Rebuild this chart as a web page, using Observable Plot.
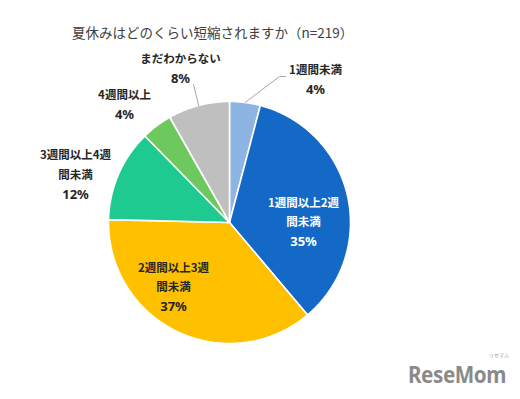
<!DOCTYPE html>
<html>
<head>
<meta charset="utf-8">
<script src="https://cdn.jsdelivr.net/npm/d3@7"></script>
<script src="https://cdn.jsdelivr.net/npm/@observablehq/plot@0.6"></script>
<style>
  html, body { margin: 0; padding: 0; background: #fff; }
  #wrap { position: relative; width: 520px; height: 399px; overflow: hidden; }
  #title { height: 48px; box-sizing: border-box; padding: 26px 0 0 72px; font: 13.5px/1 "Noto Sans CJK JP", sans-serif; color: #404040; white-space: nowrap; }
  #mark { position: absolute; left: 408px; top: 362px; font: bold 24px/1 "Noto Sans", sans-serif; color: #8a8a8a; transform: scaleX(0.86); transform-origin: left top; letter-spacing: -0.5px; }
  #kana { position: absolute; left: 489px; top: 352px; font: 5px/1 "Noto Sans CJK JP", sans-serif; color: #999; }
</style>
</head>
<body>
<div id="wrap">
  <div id="title">夏休みはどのくらい短縮されますか（n=219）</div>
  <div id="chart"></div>
  <div id="mark">ReseMom</div>
  <div id="kana">リセマム</div>
</div>
<script>
// ---- data ----
const categories = ["1週間未満", "1週間以上2週間未満", "2週間以上3週間未満", "3週間以上4週間未満", "4週間以上", "まだわからない"];
const shares = [4.1, 34.7, 36.5, 12.3, 4.1, 8.2];
const nameLines = [["1週間未満"], ["1週間以上2週", "間未満"], ["2週間以上3週", "間未満"], ["3週間以上4週", "間未満"], ["4週間以上"], ["まだわからない"]];
const percentLabels = ["4%", "35%", "37%", "12%", "4%", "8%"];
const colors = ["#8EB4E3", "#1469C7", "#FFC000", "#1FCA91", "#6DC85E", "#BFBFBF"];

// ---- layout (pixels relative to pie centre, y up) ----
const R = 121;
const lineStep = 19.5;
const labelAnchor = [[86, 142], [74, 0], [-56, -65], [-154, 47.5], [-105, 117], [-49, 153]];
const labelColor = ["#262626", "#ffffff", "#262626", "#262626", "#262626", "#262626"];
const leaderPath = { 0: [[50, 146], [56, 146]], 5: [[-36, 138]] };

const arcs = d3.pie().sort(null).startAngle(0).endAngle(2 * Math.PI)(shares);

const slicePts = [];
arcs.forEach((a, i) => {
  const cat = categories[i];
  slicePts.push({ cat, x: 0, y: 0 });
  const n = Math.max(2, Math.ceil((a.endAngle - a.startAngle) / (Math.PI / 180)));
  for (let k = 0; k <= n; k++) {
    const t = a.startAngle + (a.endAngle - a.startAngle) * k / n;
    slicePts.push({ cat, x: R * Math.sin(t), y: R * Math.cos(t) });
  }
  slicePts.push({ cat, x: 0, y: 0 });
});

const nameRows = [], pctRows = [];
categories.forEach((c, i) => {
  const lines = [...nameLines[i], percentLabels[i]];
  const mid = (lines.length - 1) / 2;
  lines.forEach((t, j) => {
    const row = { text: t, x: labelAnchor[i][0], y: labelAnchor[i][1] + (mid - j) * lineStep, color: labelColor[i] };
    (j === lines.length - 1 ? pctRows : nameRows).push(row);
  });
});

const leaders = [];
Object.entries(leaderPath).forEach(([i, pts]) => {
  const a = arcs[+i];
  const m = (a.startAngle + a.endAngle) / 2;
  leaders.push({ id: i, x: R * Math.sin(m), y: R * Math.cos(m) });
  pts.forEach(p => leaders.push({ id: i, x: p[0], y: p[1] }));
});

const W = 520, H = 351, cx = 229, cy = 174;
const chart = Plot.plot({
  width: W,
  height: H,
  margin: 0,
  x: { domain: [-cx, W - cx], range: [0, W], axis: null },
  y: { domain: [-(H - cy), cy], range: [H, 0], axis: null },
  color: { domain: categories, range: colors },
  style: { background: "transparent", overflow: "visible" },
  marks: [
    Plot.line(slicePts, { x: "x", y: "y", z: "cat", fill: "cat", stroke: "#ffffff", strokeWidth: 1.6, strokeLinejoin: "round", curve: "linear" }),
    Plot.line(leaders, { x: "x", y: "y", z: "id", stroke: "#A6A6A6", strokeWidth: 1 }),
    Plot.text(nameRows, { x: "x", y: "y", text: "text", fill: "color", fontSize: 11.5, fontWeight: "bold", textAnchor: "middle", fontFamily: "'Noto Sans CJK JP', sans-serif" }),
    Plot.text(pctRows, { x: "x", y: "y", text: "text", fill: "color", fontSize: 13, fontWeight: "bold", textAnchor: "middle", fontFamily: "'Noto Sans', 'Noto Sans CJK JP', sans-serif" })
  ]
});
document.getElementById("chart").appendChild(chart);
</script>
</body>
</html>
